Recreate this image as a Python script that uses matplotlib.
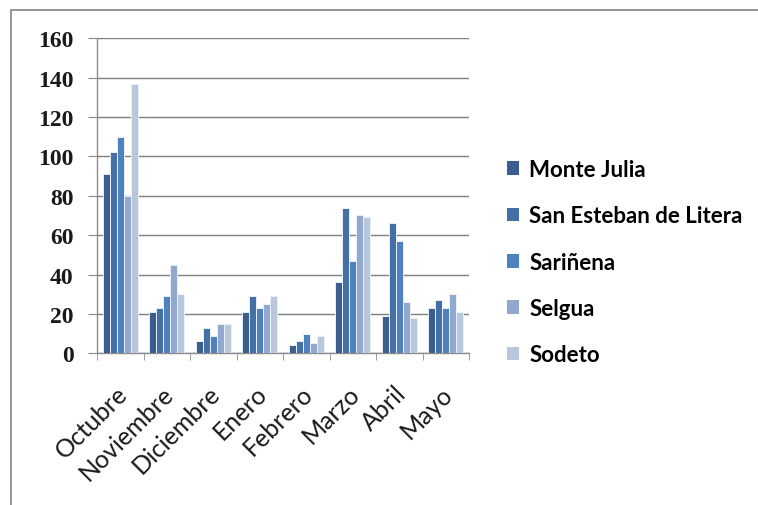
import matplotlib
matplotlib.use("Agg")
import matplotlib.pyplot as plt
import numpy as np
from matplotlib.patches import Rectangle, Patch
from matplotlib.transforms import ScaledTranslation

months = ["Octubre", "Noviembre", "Diciembre", "Enero", "Febrero", "Marzo", "Abril", "Mayo"]
series_names = ["Monte Julia", "San Esteban de Litera", "Sariñena", "Selgua", "Sodeto"]
monte_julia = [91, 21, 6, 21, 4, 36, 19, 23]
san_esteban = [102, 23, 13, 29, 6, 74, 66, 27]
sarinena = [110, 29, 9, 23, 10, 47, 57, 23]
selgua = [80, 45, 15, 25, 5, 70, 26, 30]
sodeto = [137, 30, 15, 29, 9, 69, 18, 21]
yticks = [0, 20, 40, 60, 80, 100, 120, 140, 160]

colors = ["#3A5F8F", "#4470A6", "#4F81BD", "#93A8CE", "#B9C7DD"]
all_series = [monte_julia, san_esteban, sarinena, selgua, sodeto]

W, H = 758, 506
fig = plt.figure(figsize=(W / 100, H / 100), dpi=100)
fig.patch.set_facecolor("white")

# outer chart border (left and top visible)
fig.patches.append(Rectangle((11 / W, -0.2), 1.2, 1.2 - 11 / H, transform=fig.transFigure,
                             fill=False, edgecolor="#8C8C8C", linewidth=1.3, zorder=0))

ax = fig.add_axes([97 / W, 1 - 354.3 / H, (469 - 97) / W, (354.3 - 39.3) / H])
ax.set_xlim(0, len(months))
ax.set_ylim(0, 160)

x = np.arange(len(months)) + 0.5
bw = 0.149
for k, (vals, c, name) in enumerate(zip(all_series, colors, series_names)):
    ax.bar(x + (k - 2) * bw, vals, width=bw, color=c, edgecolor="#EAF0F8", linewidth=0.7,
           label=name, zorder=3)

ax.set_yticks(yticks)
ax.yaxis.grid(True, color="#7F7F7F", linewidth=1.0, zorder=1)
ax.set_axisbelow(True)
for s in ["top", "right"]:
    ax.spines[s].set_visible(False)
ax.spines["left"].set_color("#8C8C8C")
ax.spines["bottom"].set_color("#8C8C8C")
ax.spines["left"].set_linewidth(1.0)
ax.spines["bottom"].set_linewidth(1.0)

ax.tick_params(axis="y", length=6.5, color="#8C8C8C", pad=10.5, labelsize=17)
for lab in ax.get_yticklabels():
    lab.set_fontfamily("Liberation Serif")
    lab.set_fontweight("bold")
    lab.set_color("#1A1A1A")

ax.set_xticks(np.arange(len(months) + 1), minor=True)
ax.set_xticks(x)
ax.set_xticklabels(months, rotation=45, ha="right", rotation_mode="anchor",
                   fontfamily="Lato", fontsize=18, color="#1A1A1A")
ax.tick_params(axis="x", which="major", length=0, pad=20)
ax.tick_params(axis="x", which="minor", length=5, color="#8C8C8C")
shift = ScaledTranslation(-5 / 100, 0, fig.dpi_scale_trans)
for lab in ax.get_xticklabels():
    lab.set_transform(lab.get_transform() + shift)

handles = [Patch(facecolor=c, edgecolor="none") for c in colors]
leg = fig.legend(handles, series_names, loc="upper left", bbox_to_anchor=(507 / W, 1 - 160 / H),
                 frameon=False, prop={"family": "Lato", "weight": "bold", "size": 16},
                 handlelength=0.55, handleheight=0.55, handletextpad=0.45, labelspacing=1.14,
                 borderaxespad=0, borderpad=0)

fig.savefig("out.png", dpi=100, facecolor="white")
